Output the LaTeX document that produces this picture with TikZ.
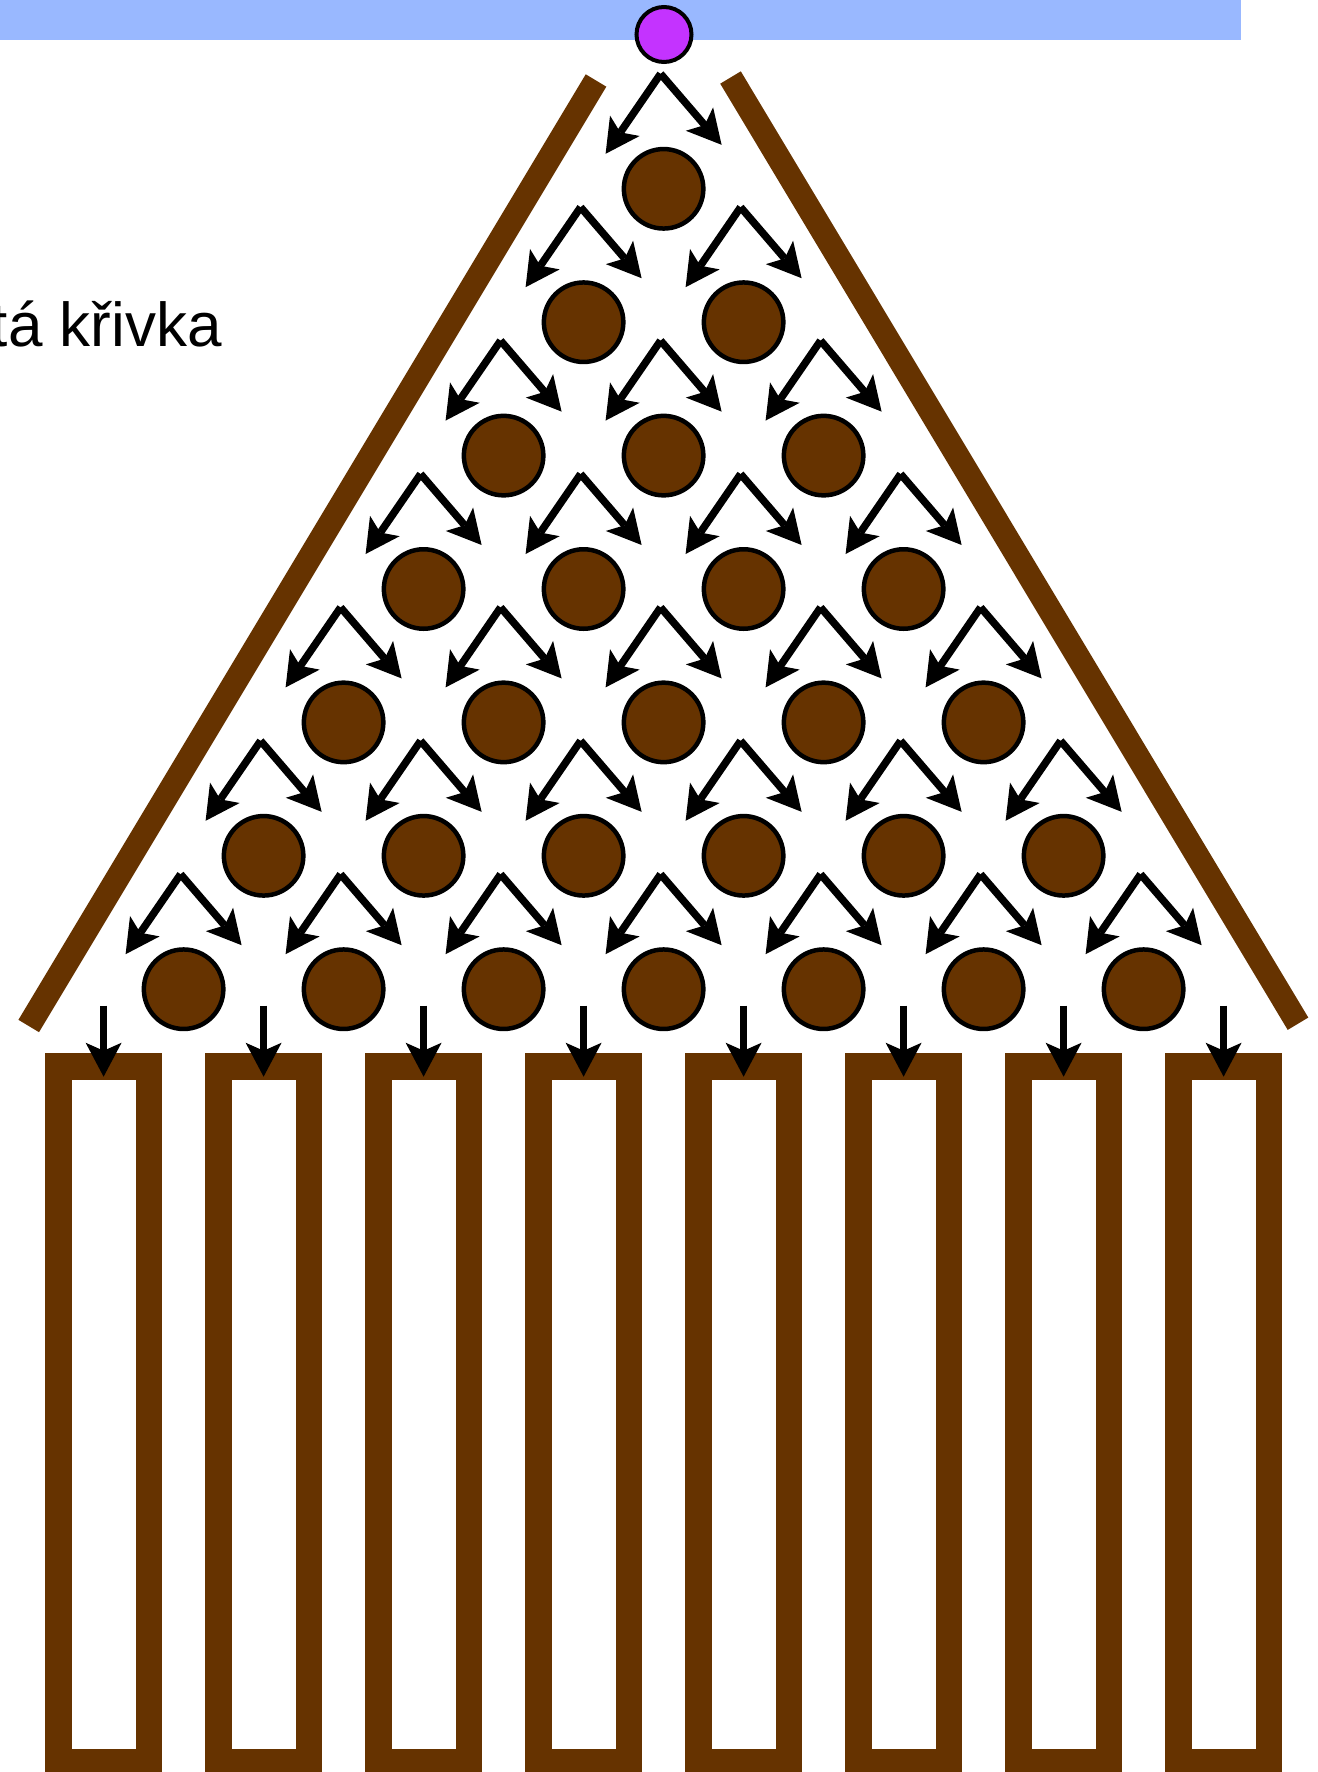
\documentclass[tikz,border=0pt]{standalone}
\usepackage{fontspec}
\setmainfont{Liberation Sans}
\usetikzlibrary{arrows.meta,calc}

\definecolor{boardbrown}{HTML}{663300}
\definecolor{barblue}{HTML}{99B8FF}
\definecolor{ballpurple}{HTML}{C433FF}

\begin{document}
\begin{tikzpicture}[
    x=1pt, y=-1pt,
    peg/.style={circle, draw=black, line width=4.5pt, fill=boardbrown,
                minimum size=79.5pt, inner sep=0pt},
    ball/.style={circle, draw=black, line width=4pt, fill=ballpurple,
                 minimum size=55pt, inner sep=0pt},
    wall/.style={draw=boardbrown, line width=24pt},
    bin/.style={rectangle, draw=boardbrown, line width=26.7pt, outer sep=0pt,
                minimum width=90.6pt, minimum height=696pt, inner sep=0pt},
    flow/.style={-{Stealth[length=34pt, width=36pt, inset=8pt, line width=0pt]},
                 line width=7.5pt}
]
\useasboundingbox (0,0) rectangle (1317,1772);
\begin{scope}
\clip (0,0) rectangle (1317,1772);
% feed bar and ball
\fill[barblue] (0,0) rectangle (1241,40);
\node[ball] (marble) at (664,34.5) {};
% side walls
\draw[wall] (596,80.5) -- (28.7,1026);
\draw[wall] (730.5,77.5) -- (1298,1023.7);
% label
\node[anchor=base east, inner sep=0pt, font=\fontsize{62}{74}\selectfont]
    (curve) at (222,346.7) {tá křivka};
% pegs with their two ways down
\foreach \r in {1,...,7} {
  \foreach \k in {1,...,\r} {
    \node[peg] (peg-\r-\k) at ({663.6+(2*\k-\r-1)*80}, {188.8+(\r-1)*133.4}) {};
    \coordinate (top-\r-\k) at ($(peg-\r-\k)+(-3,-115)$);
    \coordinate (left-\r-\k) at ($(peg-\r-\k)+(-58,-35)$);
    \coordinate (right-\r-\k) at ($(peg-\r-\k)+(58,-44)$);
    \draw[flow] (top-\r-\k) -- (left-\r-\k);
    \draw[flow] (top-\r-\k) -- (right-\r-\k);
  }
}
% bins
\foreach \k in {0,...,7} {
  \node[bin] (bin-\k) at ({103.6+160*\k}, 1414.7) {};
  \coordinate (drop-\k) at ({103.6+160*\k}, 1005.5);
  \draw[flow] (drop-\k) -- ($(bin-\k.north)+(0,10)$);
}
\end{scope}
\end{tikzpicture}
\end{document}
